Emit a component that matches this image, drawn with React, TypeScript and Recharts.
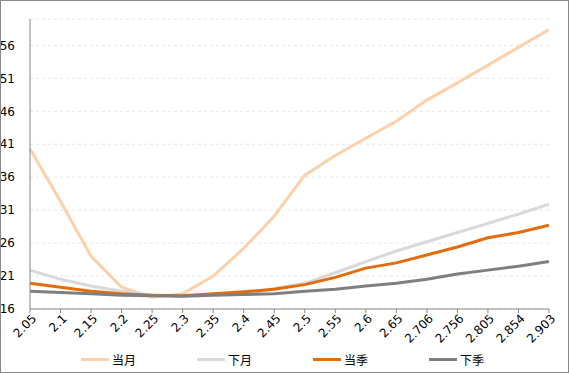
import React from 'react';
import { LineChart, Line, XAxis, YAxis, CartesianGrid, Legend } from 'recharts';

const strikes = ['2.05', '2.1', '2.15', '2.2', '2.25', '2.3', '2.35', '2.4', '2.45', '2.5', '2.55', '2.6', '2.65', '2.706', '2.756', '2.805', '2.854', '2.903'];
const thisMonth = [40.3, 32.3, 24.0, 19.3, 17.8, 18.3, 21.0, 25.2, 30.1, 36.3, 39.3, 41.9, 44.5, 47.7, 50.3, 53.0, 55.7, 58.4];
const nextMonth = [21.9, 20.5, 19.5, 18.7, 18.1, 18.0, 18.2, 18.2, 19.1, 19.9, 21.5, 23.2, 24.8, 26.2, 27.6, 29.0, 30.4, 31.9];
const thisQuarter = [19.9, 19.3, 18.7, 18.3, 18.1, 18.0, 18.3, 18.6, 19.0, 19.7, 20.8, 22.2, 23.0, 24.2, 25.4, 26.8, 27.6, 28.7];
const nextQuarter = [18.7, 18.5, 18.3, 18.1, 18.0, 17.95, 18.1, 18.2, 18.3, 18.7, 19.0, 19.5, 19.9, 20.5, 21.3, 21.9, 22.5, 23.2];
const yTicks = [16, 21, 26, 31, 36, 41, 46, 51, 56];
const seriesNames = ['当月', '下月', '当季', '下季'];

const data = strikes.map((k, i) => ({
  k,
  thisMonth: thisMonth[i],
  nextMonth: nextMonth[i],
  thisQuarter: thisQuarter[i],
  nextQuarter: nextQuarter[i],
}));

const FONT = 'DejaVu Sans, Verdana, sans-serif';

const XTick = ({ x, y, payload }: any) => (
  <text
    x={x}
    y={y}
    dy={8}
    dx={2}
    transform={`rotate(-45, ${x}, ${y})`}
    textAnchor="end"
    fontSize={12}
    fontFamily={FONT}
    fill="#000"
  >
    {payload.value}
  </text>
);

const LegendBox = ({ payload }: any) => {
  const items = [...(payload || [])].sort(
    (a: any, b: any) => seriesNames.indexOf(a.value) - seriesNames.indexOf(b.value)
  );
  return (
    <div style={{ position: 'relative', height: 20 }}>
      {items.map((p: any, i: number) => (
        <div
          key={p.value}
          style={{ position: 'absolute', left: 80 + i * 116, top: 0, display: 'flex', alignItems: 'center', height: 20 }}
        >
          <div style={{ width: 28, height: 3, background: p.color, marginRight: 3 }} />
          <span style={{ fontSize: 12, fontFamily: 'Noto Sans CJK SC, sans-serif', color: '#000' }}>{p.value}</span>
        </div>
      ))}
    </div>
  );
};

export default function App() {
  return (
    <div
      style={{
        position: 'absolute',
        left: 0,
        top: 0,
        width: 569,
        height: 373,
        border: '1px solid #888',
        boxSizing: 'border-box',
        background: '#fff',
      }}
    >
      <LineChart width={567} height={371} data={data} margin={{ top: 18, right: 19, bottom: 3, left: 0 }}>
        <CartesianGrid vertical={false} stroke="#e6e6e6" strokeDasharray="3 3" />
        <XAxis
          dataKey="k"
          interval={0}
          height={40}
          tick={<XTick />}
          tickSize={4}
          axisLine={{ stroke: '#868686' }}
          tickLine={{ stroke: '#868686' }}
        />
        <YAxis
          domain={[16, 60]}
          ticks={yTicks}
          width={29}
          tickLine={false}
          tickMargin={9}
          axisLine={{ stroke: '#868686' }}
          tick={{ fontSize: 12, fontFamily: FONT, fill: '#000' }}
          interval={0}
        />
        <Legend verticalAlign="bottom" content={<LegendBox />} />
        <Line dataKey="thisMonth" name={seriesNames[0]} stroke="#FBD0AA" strokeWidth={3} dot={false} isAnimationActive={false} />
        <Line dataKey="nextMonth" name={seriesNames[1]} stroke="#D9D9D9" strokeWidth={3} dot={false} isAnimationActive={false} />
        <Line dataKey="thisQuarter" name={seriesNames[2]} stroke="#E46C0A" strokeWidth={3} dot={false} isAnimationActive={false} />
        <Line dataKey="nextQuarter" name={seriesNames[3]} stroke="#7F7F7F" strokeWidth={3} dot={false} isAnimationActive={false} />
      </LineChart>
    </div>
  );
}
